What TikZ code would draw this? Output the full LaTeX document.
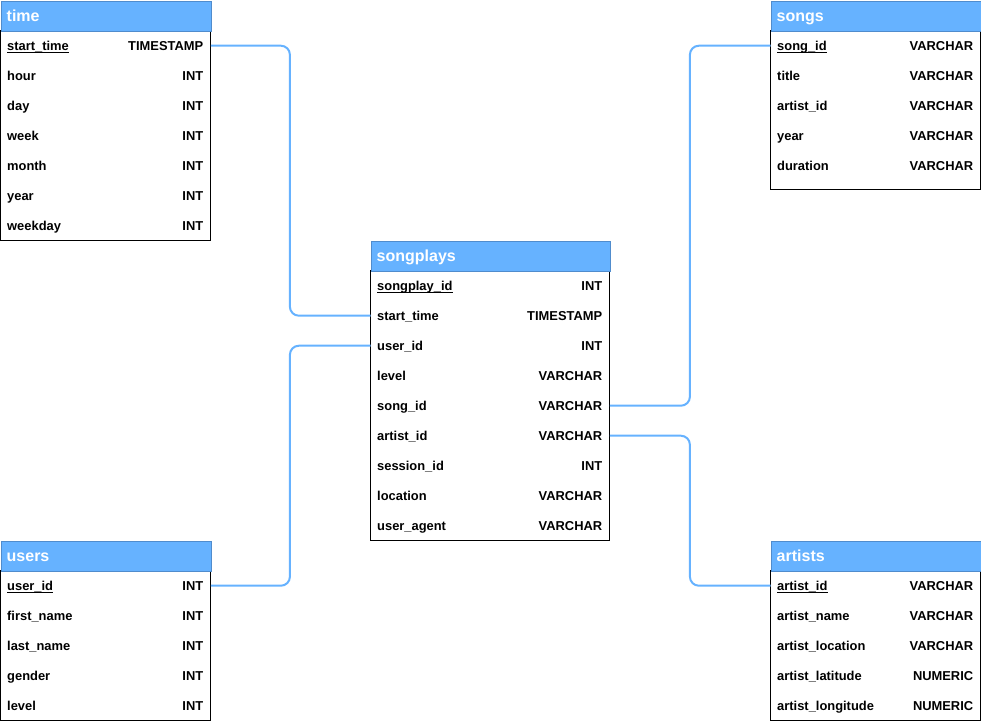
\documentclass[tikz,border=0pt]{standalone}
\usepackage{fontspec}
\setmainfont{Liberation Sans}
\definecolor{hdrfill}{RGB}{102,178,255}
\definecolor{hdrline}{RGB}{80,140,205}
\definecolor{linkcol}{RGB}{102,178,255}
\tikzset{
  hdr/.style={draw=hdrline, fill=hdrfill, line width=0.8pt, anchor=north west,
    inner sep=0pt, minimum height=30pt},
  hdrtext/.style={anchor=base west, inner sep=0pt, text=white,
    font=\fontsize{16}{19}\selectfont\bfseries},
  tbody/.style={draw=black, fill=white, line width=1pt},
  rowbox/.style={anchor=north west, inner sep=0pt, minimum height=30pt},
  fieldtext/.style={anchor=base west, inner sep=0pt,
    font=\fontsize{12.9}{15}\selectfont\bfseries},
  typetext/.style={anchor=base east, inner sep=0pt,
    font=\fontsize{12.9}{15}\selectfont\bfseries},
  keyline/.style={draw=black, line width=0.9pt},
  link/.style={draw=linkcol, line width=2pt, rounded corners=9pt},
}
% \erdtable{prefix}{x}{y}{width}{title}{body height}{field/type list}
% the first field is the primary key and is underlined
\newcommand{\erdtable}[7]{%
  \fill[tbody] (#2,#3+30) rectangle (#2+#4,#3+30+#6);
  \node[hdr, minimum width=#4pt] (#1-head) at (#2,#3) {};
  \node[hdrtext] (#1-title) at ([xshift=6pt,yshift=-5.5pt]#1-head.west) {#5};
  \foreach \fld/\typ [count=\i] in {#7} {
    \node[rowbox, minimum width=#4pt] (#1-\i) at (#2,#3+30*\i) {};
    \node[fieldtext] (#1-\i-f) at ([xshift=6.5pt,yshift=-4.7pt]#1-\i.west) {\fld};
    \node[typetext] (#1-\i-t) at ([xshift=-7.5pt,yshift=-4.7pt]#1-\i.east) {\typ};
  }%
  \draw[keyline] ([yshift=-2.2pt]#1-1-f.base west) -- ([yshift=-2.2pt]#1-1-f.base east);
}
\begin{document}
\begin{tikzpicture}[x=1pt,y=-1pt]
\useasboundingbox (0,0) rectangle (981,721);

% dimension table: time
\erdtable{time}{0.5}{0.5}{210}{time}{210}{start\_time/TIMESTAMP, hour/INT, day/INT, week/INT, month/INT, year/INT, weekday/INT}

% dimension table: songs
\erdtable{songs}{770.5}{0.5}{210}{songs}{159}{song\_id/VARCHAR, title/VARCHAR, artist\_id/VARCHAR, year/VARCHAR, duration/VARCHAR}

% fact table: songplays
\erdtable{sp}{370.5}{240.5}{239}{songplays}{270}{songplay\_id/INT, start\_time/TIMESTAMP, user\_id/INT, level/VARCHAR, song\_id/VARCHAR, artist\_id/VARCHAR, session\_id/INT, location/VARCHAR, user\_agent/VARCHAR}

% dimension table: users
\erdtable{users}{0.5}{540.5}{210}{users}{149.5}{user\_id/INT, first\_name/INT, last\_name/INT, gender/INT, level/INT}

% dimension table: artists
\erdtable{artists}{770.5}{540.5}{210}{artists}{149.5}{artist\_id/VARCHAR, artist\_name/VARCHAR, artist\_location/VARCHAR, artist\_latitude/NUMERIC, artist\_longitude/NUMERIC}

% relationships between the fact table and the dimensions
\draw[link] (time-1.east) -- ([xshift=79pt]time-1.east) |- (sp-2.west);
\draw[link] (users-1.east) -- ([xshift=79pt]users-1.east) |- (sp-3.west);
\draw[link] (sp-5.east) -- ([xshift=80pt]sp-5.east) |- (songs-1.west);
\draw[link] (sp-6.east) -- ([xshift=80pt]sp-6.east) |- (artists-1.west);
\end{tikzpicture}
\end{document}
